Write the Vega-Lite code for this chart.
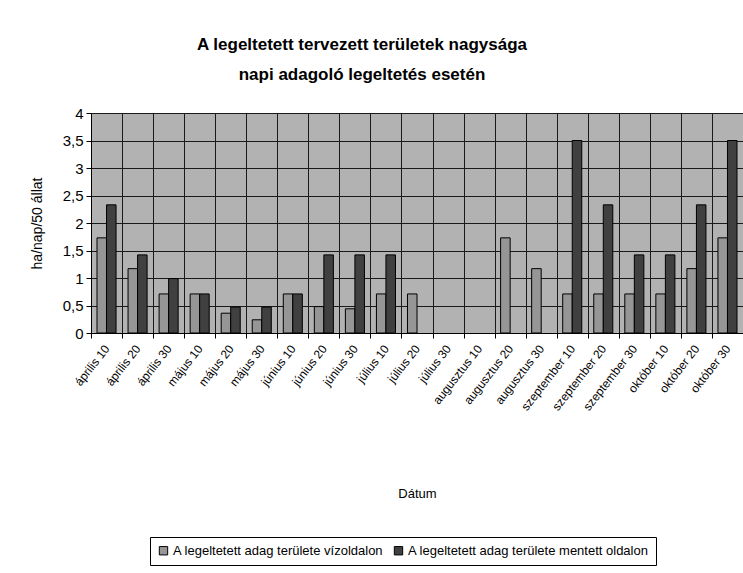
{
  "$schema": "https://vega.github.io/schema/vega-lite/v6.json",
  "autosize": "none",
  "width": 652,
  "height": 220,
  "padding": {"left": 91, "top": 113, "right": 0, "bottom": 240},
  "background": "white",
  "title": {
    "text": ["A legeltetett tervezett területek nagysága", "napi adagoló legeltetés esetén"],
    "anchor": "middle",
    "dx": -55,
    "offset": 22,
    "fontSize": 17,
    "fontWeight": "bold",
    "font": "Liberation Sans",
    "lineHeight": 30,
    "color": "black"
  },
  "config": {
    "view": {"fill": "#b2b2b2", "stroke": "#888888"},
    "font": "Liberation Sans"
  },
  "data": {
    "values": [
      {"datum": "április 10", "series": "A legeltetett adag területe vízoldalon", "value": 1.73},
      {"datum": "április 10", "series": "A legeltetett adag területe mentett oldalon", "value": 2.33},
      {"datum": "április 20", "series": "A legeltetett adag területe vízoldalon", "value": 1.17},
      {"datum": "április 20", "series": "A legeltetett adag területe mentett oldalon", "value": 1.42},
      {"datum": "április 30", "series": "A legeltetett adag területe vízoldalon", "value": 0.71},
      {"datum": "április 30", "series": "A legeltetett adag területe mentett oldalon", "value": 0.99},
      {"datum": "május 10", "series": "A legeltetett adag területe vízoldalon", "value": 0.71},
      {"datum": "május 10", "series": "A legeltetett adag területe mentett oldalon", "value": 0.71},
      {"datum": "május 20", "series": "A legeltetett adag területe vízoldalon", "value": 0.36},
      {"datum": "május 20", "series": "A legeltetett adag területe mentett oldalon", "value": 0.47},
      {"datum": "május 30", "series": "A legeltetett adag területe vízoldalon", "value": 0.24},
      {"datum": "május 30", "series": "A legeltetett adag területe mentett oldalon", "value": 0.47},
      {"datum": "június 10", "series": "A legeltetett adag területe vízoldalon", "value": 0.71},
      {"datum": "június 10", "series": "A legeltetett adag területe mentett oldalon", "value": 0.71},
      {"datum": "június 20", "series": "A legeltetett adag területe vízoldalon", "value": 0.48},
      {"datum": "június 20", "series": "A legeltetett adag területe mentett oldalon", "value": 1.42},
      {"datum": "június 30", "series": "A legeltetett adag területe vízoldalon", "value": 0.44},
      {"datum": "június 30", "series": "A legeltetett adag területe mentett oldalon", "value": 1.42},
      {"datum": "július 10", "series": "A legeltetett adag területe vízoldalon", "value": 0.71},
      {"datum": "július 10", "series": "A legeltetett adag területe mentett oldalon", "value": 1.42},
      {"datum": "július 20", "series": "A legeltetett adag területe vízoldalon", "value": 0.71},
      {"datum": "augusztus 20", "series": "A legeltetett adag területe vízoldalon", "value": 1.73},
      {"datum": "augusztus 30", "series": "A legeltetett adag területe vízoldalon", "value": 1.17},
      {"datum": "szeptember 10", "series": "A legeltetett adag területe vízoldalon", "value": 0.71},
      {"datum": "szeptember 10", "series": "A legeltetett adag területe mentett oldalon", "value": 3.5},
      {"datum": "szeptember 20", "series": "A legeltetett adag területe vízoldalon", "value": 0.71},
      {"datum": "szeptember 20", "series": "A legeltetett adag területe mentett oldalon", "value": 2.33},
      {"datum": "szeptember 30", "series": "A legeltetett adag területe vízoldalon", "value": 0.71},
      {"datum": "szeptember 30", "series": "A legeltetett adag területe mentett oldalon", "value": 1.42},
      {"datum": "október 10", "series": "A legeltetett adag területe vízoldalon", "value": 0.71},
      {"datum": "október 10", "series": "A legeltetett adag területe mentett oldalon", "value": 1.42},
      {"datum": "október 20", "series": "A legeltetett adag területe vízoldalon", "value": 1.17},
      {"datum": "október 20", "series": "A legeltetett adag területe mentett oldalon", "value": 2.33},
      {"datum": "október 30", "series": "A legeltetett adag területe vízoldalon", "value": 1.73},
      {"datum": "október 30", "series": "A legeltetett adag területe mentett oldalon", "value": 3.5}
    ]
  },
  "mark": {"type": "bar", "stroke": "black", "strokeWidth": 1},
  "encoding": {
    "x": {
      "field": "datum",
      "type": "nominal",
      "sort": null,
      "scale": {
        "domain": ["április 10", "április 20", "április 30", "május 10", "május 20", "május 30", "június 10", "június 20", "június 30", "július 10", "július 20", "július 30", "augusztus 10", "augusztus 20", "augusztus 30", "szeptember 10", "szeptember 20", "szeptember 30", "október 10", "október 20", "október 30"],
        "paddingInner": 0,
        "paddingOuter": 0
      },
      "axis": {
        "title": "Dátum",
        "titleFontSize": 13,
        "titleFontWeight": "normal",
        "titleColor": "black",
        "titlePadding": 75,
        "tickBand": "extent",
        "grid": true,
        "gridColor": "#1a1a1a",
        "gridWidth": 1,
        "gridOpacity": 1,
        "domainColor": "black",
        "tickColor": "black",
        "tickSize": 5,
        "labelAngle": -52,
        "labelAlign": "right",
        "labelBaseline": "middle",
        "labelPadding": 8,
        "labelFontSize": 12,
        "labelColor": "black"
      }
    },
    "xOffset": {
      "field": "series",
      "type": "nominal",
      "sort": ["A legeltetett adag területe vízoldalon", "A legeltetett adag területe mentett oldalon"],
      "scale": {"paddingInner": 0, "paddingOuter": 0.63}
    },
    "y": {
      "field": "value",
      "type": "quantitative",
      "scale": {"domain": [0, 4], "nice": false},
      "axis": {
        "title": "ha/nap/50 állat",
        "titleFontSize": 14,
        "titleFontWeight": "normal",
        "titleColor": "black",
        "titlePadding": 18,
        "values": [0, 0.5, 1, 1.5, 2, 2.5, 3, 3.5, 4],
        "labelExpr": "replace(format(datum.value, '.1~f'), '.', ',')",
        "labelFontSize": 15,
        "labelColor": "black",
        "grid": true,
        "gridColor": "#1a1a1a",
        "gridWidth": 1,
        "gridOpacity": 1,
        "domainColor": "black",
        "tickColor": "black",
        "tickSize": 5,
        "labelPadding": 3
      }
    },
    "fill": {
      "field": "series",
      "type": "nominal",
      "sort": ["A legeltetett adag területe vízoldalon", "A legeltetett adag területe mentett oldalon"],
      "scale": {"range": ["#969696", "#404040"]},
      "legend": {
        "title": null,
        "orient": "none",
        "legendX": 59,
        "legendY": 424,
        "direction": "horizontal",
        "strokeColor": "black",
        "fillColor": "white",
        "padding": 7,
        "symbolType": "square",
        "symbolSize": 70,
        "symbolStrokeColor": "black",
        "symbolStrokeWidth": 1,
        "labelFontSize": 13,
        "labelLimit": 0,
        "labelColor": "black",
        "columnPadding": 8,
        "labelOffset": 3
      }
    }
  }
}
